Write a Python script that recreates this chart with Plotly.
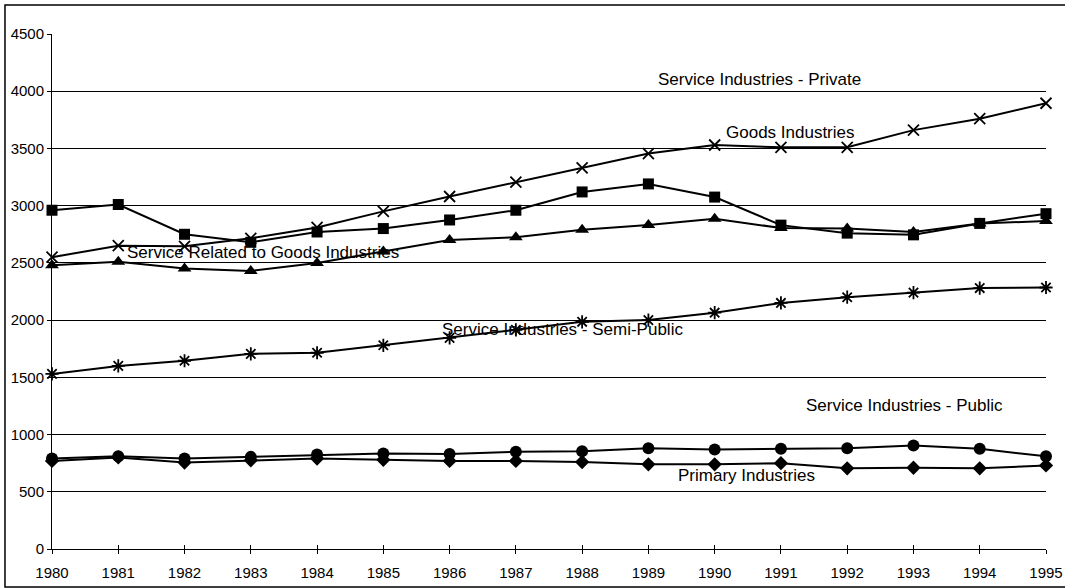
import plotly.graph_objects as go

years = list(range(1980, 1996))

goods = [2960, 3010, 2750, 2680, 2770, 2800, 2875, 2960, 3120, 3190, 3075, 2830, 2760, 2745, 2845, 2930]
service_related = [2480, 2510, 2450, 2430, 2500, 2600, 2700, 2725, 2790, 2830, 2885, 2805, 2800, 2770, 2845, 2865]
private = [2550, 2650, 2645, 2715, 2810, 2950, 3080, 3205, 3330, 3455, 3530, 3510, 3510, 3660, 3760, 3895]
semi_public = [1530, 1600, 1645, 1705, 1715, 1780, 1845, 1915, 1985, 2000, 2065, 2150, 2200, 2240, 2280, 2285]
public = [790, 810, 790, 805, 825, 835, 830, 850, 855, 880, 870, 875, 880, 905, 875, 810]
primary = [770, 800, 755, 775, 790, 780, 770, 770, 760, 740, 740, 750, 705, 710, 705, 730]

series = [
    ("Goods Industries", goods, "square", 11),
    ("Service Related to Goods Industries", service_related, "triangle-up", 12),
    ("Service Industries - Private", private, "x-thin-open", 11),
    ("Service Industries - Semi-Public", semi_public, "asterisk-open", 11),
    ("Service Industries - Public", public, "circle", 12),
    ("Primary Industries", primary, "diamond", 11),
]

# series name labels placed beside their lines: (text, year, value)
labels = [
    ("Service Industries - Private", 1990.67, 4105),
    ("Goods Industries", 1991.15, 3640),
    ("Service Related to Goods Industries", 1983.18, 2595),
    ("Service Industries - Semi-Public", 1987.71, 1922),
    ("Service Industries - Public", 1992.86, 1258),
    ("Primary Industries", 1990.48, 638),
]

FONT = "Liberation Sans, Arial, sans-serif"

fig = go.Figure()
for name, vals, sym, size in series:
    open_sym = sym.endswith("open")
    fig.add_trace(go.Scatter(
        x=years, y=vals, name=name, mode="lines+markers",
        line=dict(color="black", width=2),
        marker=dict(symbol=sym, size=size, color="black",
                    line=dict(color="black", width=1.8 if open_sym else 0)),
        cliponaxis=False,
    ))

for text, xv, yv in labels:
    fig.add_annotation(x=xv, y=yv, text=text, showarrow=False,
                       font=dict(family=FONT, size=17, color="black"))

# outer frame
fig.add_shape(type="rect", xref="paper", yref="paper",
              x0=-0.0473, x1=1.03, y0=-0.0738, y1=1.0563,
              line=dict(color="black", width=1.5), layer="below")

fig.update_layout(
    width=1065, height=588,
    margin=dict(l=52, r=19, t=34, b=39, autoexpand=False),
    paper_bgcolor="white", plot_bgcolor="white",
    showlegend=False,
    font=dict(family=FONT, size=15, color="black"),
    xaxis=dict(range=[1980, 1995], tickmode="array", tickvals=years,
               ticktext=[str(y) for y in years],
               showgrid=False, zeroline=False, automargin=False,
               showline=True, linecolor="black", linewidth=1,
               ticks="outside", ticklen=4, tickcolor="black",
               ticklabelstandoff=6,
               tickfont=dict(family=FONT, size=15)),
    xaxis2=dict(range=[1980, 1995], overlaying="x", anchor="y",
                tickmode="array", tickvals=years, showticklabels=False,
                showgrid=False, zeroline=False, showline=False,
                automargin=False,
                ticks="inside", ticklen=4, tickcolor="black"),
    yaxis=dict(range=[0, 4500], dtick=500, tick0=0, automargin=False,
               showgrid=True, gridcolor="black", gridwidth=1,
               zeroline=False, showline=True, linecolor="black", linewidth=1,
               ticks="outside", ticklen=4, tickcolor="black",
               tickfont=dict(family=FONT, size=15)),
)

# invisible trace so the second x axis (crossing ticks) is drawn
fig.add_trace(go.Scatter(x=[1980], y=[0], xaxis="x2", mode="markers",
                         marker=dict(opacity=0), hoverinfo="skip",
                         showlegend=False))

fig.write_html("out.html")
